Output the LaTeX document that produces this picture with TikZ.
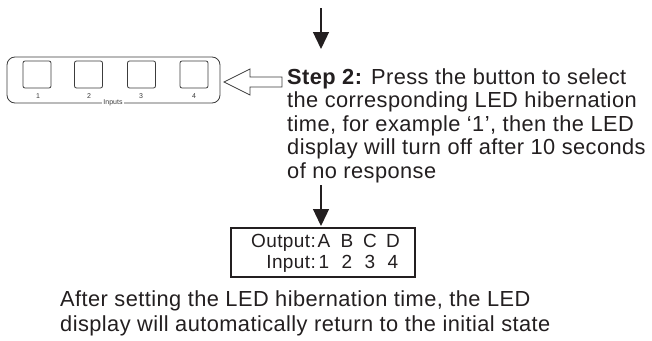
\documentclass[tikz,border=0pt]{standalone}
\usepackage{fontspec}
\setmainfont[LetterSpace=2]{Liberation Sans}
\newfontfamily\smallsans{Liberation Sans}
\usetikzlibrary{arrows.meta}
\definecolor{ink}{HTML}{231F20}
\definecolor{panelc}{HTML}{3C3C3C}
\tikzset{
  txt/.style={anchor=base west, inner sep=0pt, text=ink, font=\fontsize{21.8}{24}\selectfont},
  boxtxt/.style={anchor=base, inner sep=0pt, text=ink, font=\fontsize{19}{20}\selectfont},
  flow/.style={draw=ink, line width=1.3pt, -{Triangle[width=16pt,length=17pt]}},
  btn/.style={draw=panelc, line width=0.8pt, rounded corners=2pt, minimum width=28pt, minimum height=27pt, inner sep=0pt},
  tinytxt/.style={font=\smallsans\fontsize{7}{8}\selectfont, text=panelc, inner sep=1pt},
  hollow/.style={draw=panelc, line width=0.8pt, fill=white, line join=miter},
}
\begin{document}
\begin{tikzpicture}[x=1pt,y=-1pt]
\useasboundingbox[fill=white] (0,0) rectangle (652,340);

% input panel
\node[draw=panelc, line width=0.8pt, rounded corners=8pt, minimum width=213pt, minimum height=46pt, inner sep=0pt] (panel) at (113.5,80) {};
\node[btn] (b1) at (37,74.5) {};
\node[btn] (b2) at (88.5,74.5) {};
\node[btn] (b3) at (141.5,74.5) {};
\node[btn] (b4) at (194,74.5) {};
\node[tinytxt] (l1) at (38,96) {1};
\node[tinytxt] (l2) at (89,96) {2};
\node[tinytxt] (l3) at (141,96) {3};
\node[tinytxt] (l4) at (194,96) {4};
\node[tinytxt, fill=white] (inputs) at (113,103) {Inputs};

% hollow arrow pointing to the panel
\draw[hollow] (224,82) -- (250,69) -- (250,77) -- (282,77) -- (282,87) -- (250,87) -- (250,95) -- cycle;

% step text
\node[txt] (s1) at (287,84) {\textbf{Step 2:} Press the button to select};
\node[txt] (s2) at (287,107.5) {the corresponding LED hibernation};
\node[txt] (s3) at (287,131) {time, for example ‘1’, then the LED};
\node[txt] (s4) at (287,154.5) {display will turn off after 10 seconds};
\node[txt] (s5) at (287,178) {of no response};

% arrows
\coordinate (top) at (321,8);
\coordinate (topend) at (321,49);
\draw[flow] (top) -- (topend);

% display box
\node[draw=ink, line width=1.1pt, minimum width=184pt, minimum height=49pt, inner sep=0pt] (disp) at (323,252.5) {};
\coordinate (a2) at (321,185);
\draw[flow] (a2) -- (321,226);

\node[boxtxt, anchor=base east] (out) at (316,247) {Output:};
\node[boxtxt] (oa) at (324,247) {A};
\node[boxtxt] (ob) at (347,247) {B};
\node[boxtxt] (oc) at (370,247) {C};
\node[boxtxt] (od) at (393,247) {D};
\node[boxtxt, anchor=base east] (inp) at (316,268) {Input:};
\node[boxtxt] (i1) at (324,268) {1};
\node[boxtxt] (i2) at (347,268) {2};
\node[boxtxt] (i3) at (370,268) {3};
\node[boxtxt] (i4) at (393,268) {4};

% bottom text
\node[txt] (f1) at (60,306.5) {After setting the LED hibernation time, the LED};
\node[txt] (f2) at (60,331) {display will automatically return to the initial state};
\end{tikzpicture}
\end{document}
